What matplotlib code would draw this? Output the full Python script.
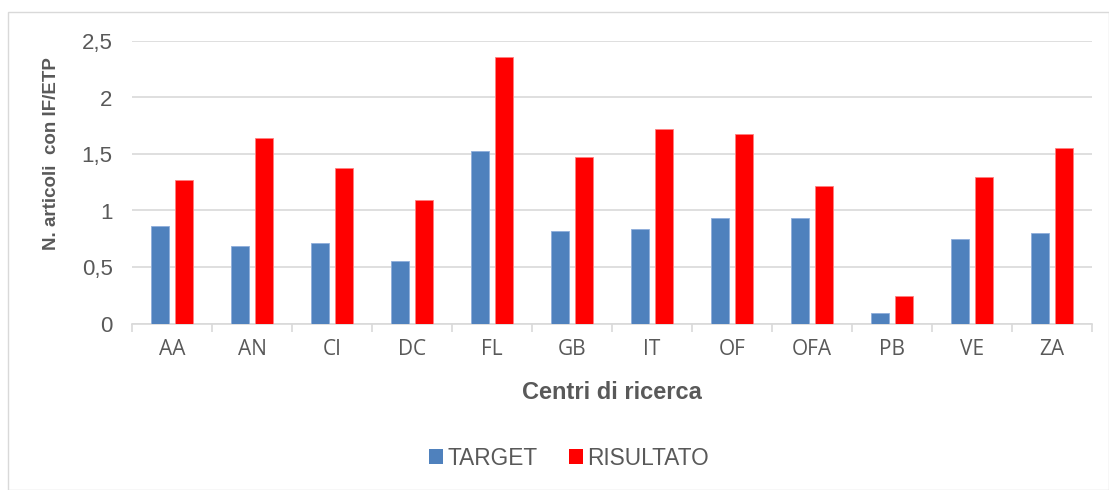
import matplotlib
matplotlib.use("Agg")
import matplotlib.pyplot as plt
import numpy as np
from matplotlib.patches import Rectangle, Patch

categories = ["AA", "AN", "CI", "DC", "FL", "GB", "IT", "OF", "OFA", "PB", "VE", "ZA"]
target = [0.86, 0.69, 0.71, 0.55, 1.53, 0.82, 0.84, 0.93, 0.93, 0.09, 0.75, 0.80]
risultato = [1.27, 1.64, 1.38, 1.09, 2.36, 1.47, 1.72, 1.68, 1.22, 0.24, 1.30, 1.55]
yticks = [0, 0.5, 1, 1.5, 2, 2.5]
ytick_labels = ["0", "0,5", "1", "1,5", "2", "2,5"]

W, H = 1109, 490
fig = plt.figure(figsize=(W / 100, H / 100), dpi=100)
fig.patch.set_facecolor("white")

# outer chart border
fig.add_artist(Rectangle((8 / W, 0), (W - 8) / W, (H - 12) / H, transform=fig.transFigure,
                         fill=False, edgecolor="#D9D9D9", linewidth=1.0))

ax = fig.add_axes([132 / W, 1 - 323.5 / H, 960 / W, (323.5 - 41) / H])
x = np.arange(len(categories))
bw = 0.225
off = 0.144
ax.bar(x - off, target, bw, color="#4F81BD", edgecolor="#8FAEDB", linewidth=0.6, zorder=3, label="TARGET")
ax.bar(x + off, risultato, bw, color="#FF0000", edgecolor="#FF8080", linewidth=0.6, zorder=3, label="RISULTATO")

ax.set_xlim(-0.5, len(categories) - 0.5)
ax.set_ylim(0, 2.5)
ax.set_yticks(yticks)
ax.set_yticklabels(ytick_labels, fontfamily="Liberation Sans", fontsize=16, color="#595959")
ax.yaxis.grid(True, color="#D9D9D9", linewidth=1.2, zorder=0)
ax.tick_params(axis="y", length=0, pad=14)

ax.set_xticks(x)
ax.set_xticklabels(categories, fontfamily="Open Sans", fontsize=15, color="#595959")
ax.set_xticks(np.arange(len(categories) + 1) - 0.5, minor=True)
ax.tick_params(axis="x", which="major", length=0, pad=11)
ax.tick_params(axis="x", which="minor", length=6, color="#D9D9D9", width=1.2)

for s in ["top", "right", "left"]:
    ax.spines[s].set_visible(False)
ax.spines["bottom"].set_color("#D9D9D9")
ax.spines["bottom"].set_linewidth(1.2)

fig.text(52 / W, 1 - 154 / H, "N. articoli  con IF/ETP", rotation=90, ha="center", va="center",
         fontfamily="Liberation Sans", fontweight="bold", fontsize=13.5, color="#595959")
fig.text(612 / W, 1 - 392 / H, "Centri di ricerca", ha="center", va="center",
         fontfamily="Liberation Sans", fontweight="bold", fontsize=17, color="#595959")

handles = [Patch(facecolor="#4F81BD"), Patch(facecolor="#FF0000")]
fig.legend(handles, ["TARGET", "RISULTATO"], loc="center", bbox_to_anchor=(569 / W, 1 - 458 / H),
           ncol=2, frameon=False, prop={"family": "Liberation Sans", "size": 16.3},
           labelcolor="#595959", handlelength=0.6, handleheight=0.6, handletextpad=0.2,
           columnspacing=1.4)

fig.savefig("out.png", dpi=100, facecolor="white")
